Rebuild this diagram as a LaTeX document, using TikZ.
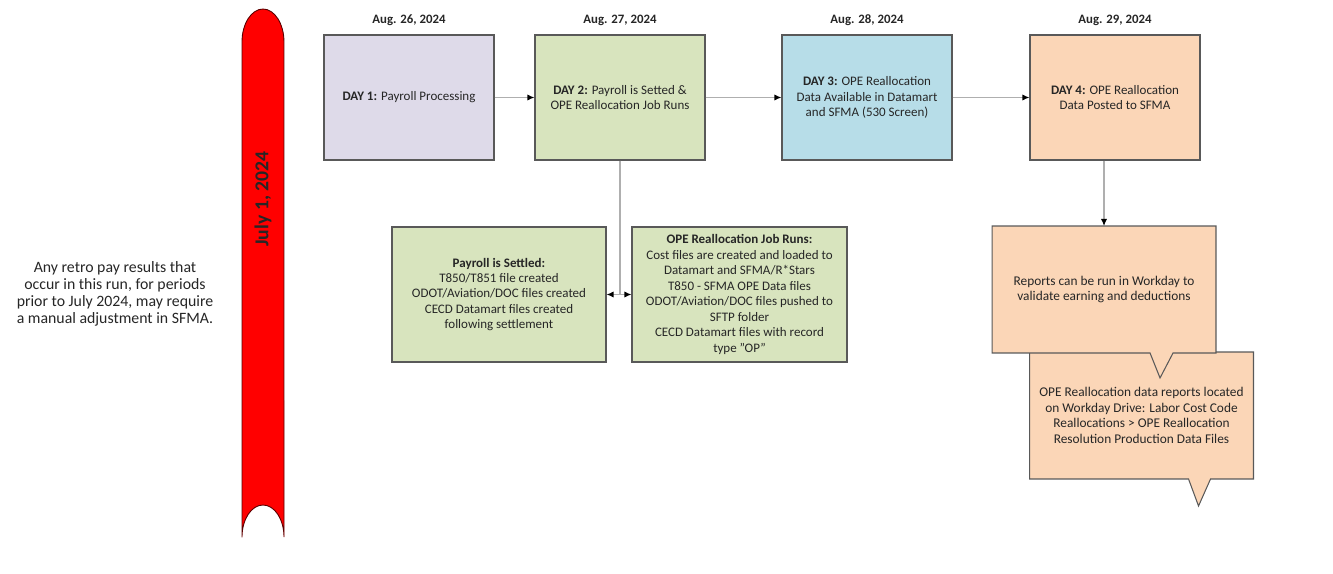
\documentclass[tikz,border=0pt]{standalone}
\usepackage{fontspec}
\setmainfont{Carlito}
\usetikzlibrary{arrows.meta,calc,backgrounds}
\definecolor{dayone}{RGB}{222,218,233}
\definecolor{daytwo}{RGB}{216,228,190}
\definecolor{daythree}{RGB}{183,221,232}
\definecolor{dayfour}{RGB}{251,214,183}
\definecolor{edge}{RGB}{89,89,89}
\definecolor{wire}{RGB}{175,175,175}

\begin{document}
\begin{tikzpicture}[x=0.02cm,y=-0.02cm,text=black!85,
  box/.style={draw=edge,line width=0.6pt,minimum width=3.4cm,minimum height=2.5cm,align=center,font=\fontsize{7.4}{8.8}\selectfont},
  note/.style={minimum width=4.48cm,minimum height=2.54cm,outer sep=0pt,align=center,font=\fontsize{7.6}{8.8}\selectfont},
  date/.style={font=\fontsize{7.3}{8.8}\selectfont\bfseries},
  link/.style={draw=wire,line width=0.7pt,-{Latex[length=4pt,width=3.5pt,color=black]}},
  bubble/.style={draw=edge,line width=0.6pt,fill=dayfour}]
\useasboundingbox (0,0) rectangle (1333,574);
\draw[fill=red,draw=red!35!black,line width=0.5pt] (242,537) -- (242,42)
  arc[start angle=180,end angle=0,x radius=0.42cm,y radius=0.66cm] -- (284,537)
  arc[start angle=0,end angle=180,x radius=0.42cm,y radius=0.64cm] -- cycle;
\node[rotate=90,font=\fontsize{11.2}{13}\selectfont\bfseries] (july) at (263,199) {July 1, 2024};
\node[font=\fontsize{9}{9.6}\selectfont,align=center] (retro) at (115,294) {Any retro pay results that\\occur in this run, for periods\\prior to July 2024, may require\\a manual adjustment in SFMA.};
\node[box,fill=dayone] (day1) at (409,97.5) {\textbf{DAY 1:} Payroll Processing};
\node[box,fill=daytwo] (day2) at (620,97.5) {\textbf{DAY 2:} Payroll is Setted \&\\OPE Reallocation Job Runs};
\node[box,fill=daythree] (day3) at (867,97.5) {\textbf{DAY 3:} OPE Reallocation\\Data Available in Datamart\\and SFMA (530 Screen)};
\node[box,fill=dayfour] (day4) at (1115,97.5) {\textbf{DAY 4:} OPE Reallocation\\Data Posted to SFMA};
\foreach \d/\t in {day1/26,day2/27,day3/28,day4/29}
  \node[date] (date\t) at ($(\d.north)+(0,-14)$) {Aug. \t, 2024};
\node[box,fill=daytwo,minimum width=4.28cm,minimum height=2.7cm] (settle) at (499,294.5) {\textbf{Payroll is Settled:}\\T850/T851 file created\\ODOT/Aviation/DOC files created\\CECD Datamart files created\\following settlement};
\node[box,fill=daytwo,minimum width=4.3cm,minimum height=2.7cm] (jobrun) at (739.5,294.5) {\textbf{OPE Reallocation Job Runs:}\\Cost files are created and loaded to\\Datamart and SFMA/R*Stars\\T850 - SFMA OPE Data files\\ODOT/Aviation/DOC files pushed to\\SFTP folder\\CECD Datamart files with record\\type "OP"};
\node[note] (files) at (1141.5,415.5) {OPE Reallocation data reports located\\on Workday Drive: Labor Cost Code\\Reallocations > OPE Reallocation\\Resolution Production Data Files};
\node[note] (check) at (1104,289.5) {Reports can be run in Workday to\\validate earning and deductions};
\begin{pgfonlayer}{background}
\draw[bubble] (files.north west) -- (files.north east) -- (files.south east) -- ($(files.south west)+(181,0)$)
  -- ($(files.south west)+(169,27)$) -- ($(files.south west)+(159,0)$) -- (files.south west) -- cycle;
\draw[bubble] (check.north west) -- (check.north east) -- (check.south east) -- ($(check.south west)+(181,0)$)
  -- ($(check.south west)+(168,25)$) -- ($(check.south west)+(158,0)$) -- (check.south west) -- cycle;
\end{pgfonlayer}
\draw[link] (day1) -- (day2);
\draw[link] (day2) -- (day3);
\draw[link] (day3) -- (day4);
\draw[link] (day2.south) |- (settle.east);
\draw[link] (day2.south) |- (jobrun.west);
\draw[link] (day4.south -| check.north) -- (check.north);
\end{tikzpicture}
\end{document}
